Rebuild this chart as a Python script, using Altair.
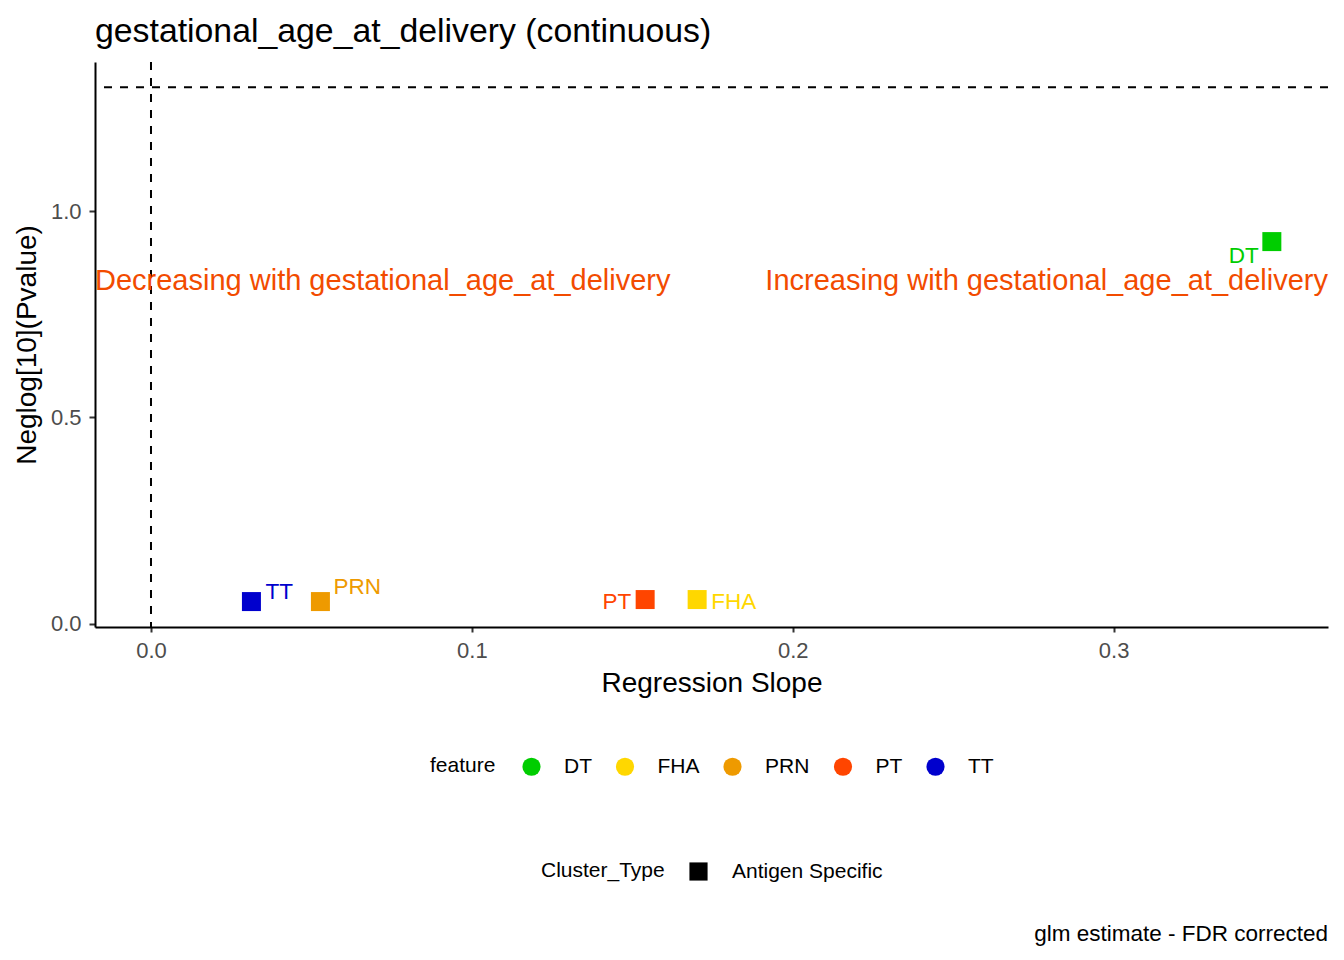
import altair as alt
import pandas as pd

# ---- data ----
features = ["DT", "FHA", "PRN", "PT", "TT"]
slopes = [0.3493, 0.1702, 0.0528, 0.1540, 0.0313]
neglogp = [0.9267, 0.0583, 0.0534, 0.0583, 0.0534]
cluster_type = ["Antigen Specific"] * 5
colors = ["#00CD00", "#FFD700", "#EE9A00", "#FF4500", "#0000CD"]

sig_line = [1.30103]   # -log10(0.05)
zero_line = [0.0]
annot_y = [0.83]
annot_left = ["Decreasing with gestational_age_at_delivery"]
annot_right = ["Increasing with gestational_age_at_delivery"]
title_text = ["gestational_age_at_delivery (continuous)"]
caption = ["glm estimate - FDR corrected"]

x_ticks = [0.0, 0.1, 0.2, 0.3]
y_ticks = [0.0, 0.5, 1.0]

df = pd.DataFrame({"feature": features, "slope": slopes, "p": neglogp,
                   "Cluster_Type": cluster_type})

W, H = 1233, 565
FONT = "Liberation Sans"

xscale = alt.Scale(domain=[-0.01745, 0.3668], nice=False, zero=False)
yscale = alt.Scale(domain=[-0.0083, 1.3624], nice=False, zero=False)

x_enc = alt.X("slope:Q", scale=xscale,
              axis=alt.Axis(title="Regression Slope", values=x_ticks, format=".1f",
                            grid=False, domainColor="black", domainWidth=2,
                            tickColor="#333333", tickWidth=2, tickSize=5,
                            labelColor="#4D4D4D", labelFontSize=22, labelPadding=8,
                            titleFontSize=28, titleFontWeight="normal", titleColor="black",
                            titlePadding=8, labelFont=FONT, titleFont=FONT))
y_enc = alt.Y("p:Q", scale=yscale,
              axis=alt.Axis(title="Neglog[10](Pvalue)", values=y_ticks, format=".1f",
                            grid=False, domainColor="black", domainWidth=2,
                            tickColor="#333333", tickWidth=2, tickSize=6,
                            labelColor="#4D4D4D", labelFontSize=22, labelPadding=8,
                            titleFontSize=28, titleFontWeight="normal", titleColor="black",
                            titlePadding=9, labelFont=FONT, titleFont=FONT))

color_enc = alt.Color("feature:N",
                      scale=alt.Scale(domain=features, range=colors),
                      legend=alt.Legend(title="feature", orient="none", legendX=335, legendY=694,
                                        direction="horizontal", titleOrient="left",
                                        symbolType="circle", symbolSize=330, symbolOpacity=1,
                                        symbolStrokeWidth=0,
                                        labelFontSize=21, titleFontSize=21, labelFont=FONT,
                                        titleFont=FONT, titleFontWeight="normal",
                                        labelColor="black", titleColor="black",
                                        titlePadding=25, labelOffset=22, columnPadding=22.5))
shape_enc = alt.Shape("Cluster_Type:N",
                      scale=alt.Scale(domain=["Antigen Specific"], range=["square"]),
                      legend=alt.Legend(title="Cluster_Type", orient="none", legendX=446, legendY=799,
                                        direction="horizontal", titleOrient="left",
                                        symbolSize=330, symbolFillColor="black",
                                        symbolStrokeColor="black", symbolStrokeWidth=0,
                                        symbolOpacity=1,
                                        labelFontSize=21, titleFontSize=21, labelFont=FONT,
                                        titleFont=FONT, titleFontWeight="normal",
                                        labelColor="black", titleColor="black",
                                        titlePadding=23, labelOffset=23))

base = alt.Chart(df)

points = base.mark_point(filled=True, opacity=1, size=361).encode(
    x=x_enc, y=y_enc, color=color_enc, shape=shape_enc)

# label offsets (style, not data)
offsets = {"DT": (-13, 14, "right"), "FHA": (14, 2, "left"), "PRN": (13, -15, "left"),
           "PT": (-14, 2, "right"), "TT": (14, -10, "left")}
label_layers = []
for f, c in zip(features, colors):
    dx, dy, al = offsets[f]
    label_layers.append(
        base.transform_filter(alt.datum.feature == f).mark_text(
            align=al, baseline="middle", dx=dx, dy=dy, fontSize=22.5, font=FONT, color=c
        ).encode(x="slope:Q", y="p:Q", text="feature:N")
    )

hline = alt.Chart(pd.DataFrame({"y": sig_line})).mark_rule(
    color="black", strokeWidth=2, strokeDash=[8, 8]).encode(y="y:Q")
vline = alt.Chart(pd.DataFrame({"x": zero_line})).mark_rule(
    color="black", strokeWidth=2, strokeDash=[8, 8]).encode(x="x:Q")

ann_l = alt.Chart(pd.DataFrame({"y": annot_y, "t": annot_left})).mark_text(
    align="left", baseline="middle", fontSize=29, font=FONT, color="#F24B00"
).encode(x=alt.value(0), y="y:Q", text="t:N")
ann_r = alt.Chart(pd.DataFrame({"y": annot_y, "t": annot_right})).mark_text(
    align="right", baseline="middle", fontSize=29, font=FONT, color="#F24B00"
).encode(x=alt.value(W), y="y:Q", text="t:N")

ttl = alt.Chart(pd.DataFrame({"t": title_text})).mark_text(
    align="left", baseline="alphabetic", fontSize=33.8, font=FONT, color="black"
).encode(x=alt.value(0), y=alt.value(-20), text="t:N")

cap = alt.Chart(pd.DataFrame({"t": caption})).mark_text(
    align="right", baseline="middle", fontSize=22.5, font=FONT, color="black"
).encode(x=alt.value(W), y=alt.value(872), text="t:N")

chart = alt.layer(vline, hline, points, *label_layers, ann_l, ann_r, ttl, cap).properties(
    width=W, height=H,
    autosize=alt.AutoSizeParams(type="none"),
    padding={"left": 87, "top": 54, "right": 8, "bottom": 322},
).configure(background="white").configure_view(stroke=None)

chart.save("out.html", embed_options={"renderer": "svg", "actions": False})
